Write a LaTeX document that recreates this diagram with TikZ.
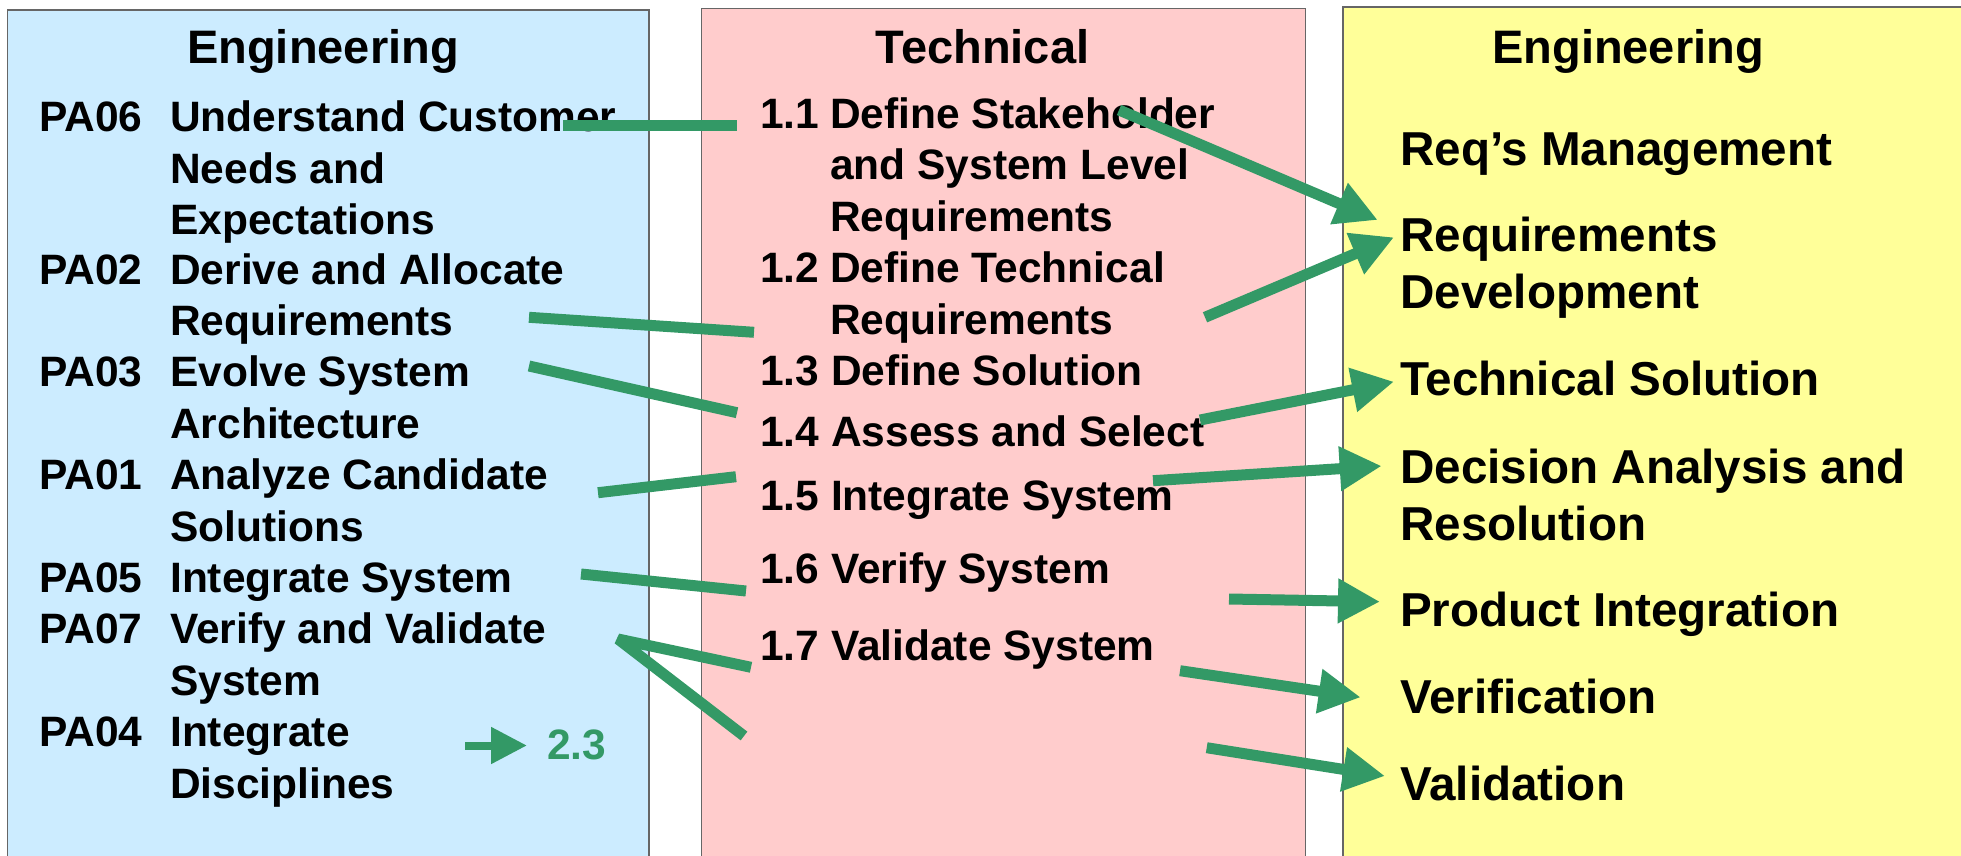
\documentclass[tikz,border=0pt]{standalone}
\usepackage{fontspec}
\setmainfont{Liberation Sans}
\usetikzlibrary{arrows.meta}
\definecolor{paleblue}{HTML}{CCECFF}
\definecolor{palepink}{HTML}{FFCCCC}
\definecolor{paleyellow}{HTML}{FFFF99}
\definecolor{linkgreen}{HTML}{339966}
\tikzset{
  panel/.style={draw=black!60, line width=1.5pt},
  txt/.style={anchor=base west, inner sep=0pt, align=left,
    font=\fontsize{42.5}{51.4}\selectfont\bfseries},
  bigtxt/.style={txt, font=\fontsize{47.6}{56.7}\selectfont\bfseries},
  heading/.style={anchor=base, inner sep=0pt,
    font=\fontsize{47}{56.7}\selectfont\bfseries},
  link/.style={draw=linkgreen, line width=11pt},
  pointer/.style={link, -{Triangle[length=42pt,width=42pt]}}
}
\begin{document}
\begin{tikzpicture}[x=1pt,y=-1pt]
\useasboundingbox (0,0) rectangle (1961,856);

% the three columns
\filldraw[panel, fill=paleblue] (7.5,10) rectangle (649,880);
\filldraw[panel, fill=palepink] (701.5,8.5) rectangle (1305.5,880);
\filldraw[panel, fill=paleyellow] (1343,7) rectangle (1990,880);

\node[heading] (engl) at (323,63.3) {Engineering};
\node[heading] (tech) at (982.6,63.3) {Technical};
\node[heading] (engr) at (1628,63.3) {Engineering};

% left column (multi-line nodes sit on their last baseline)
\node[txt] (lpa06) at (39,131.7) {PA06};
\node[txt] (pa06) at (170,234.5) {Understand Customer\\Needs and\\Expectations};
\node[txt] (lpa02) at (39,284) {PA02};
\node[txt] (pa02) at (170,335.4) {Derive and Allocate\\Requirements};
\node[txt] (lpa03) at (39,386.8) {PA03};
\node[txt] (pa03) at (170,438.2) {Evolve System\\Architecture};
\node[txt] (lpa01) at (39,489.6) {PA01};
\node[txt] (pa01) at (170,541) {Analyze Candidate\\Solutions};
\node[txt] (lpa05) at (39,592.4) {PA05};
\node[txt] (pa05) at (170,592.4) {Integrate System};
\node[txt] (lpa07) at (39,643.8) {PA07};
\node[txt] (pa07) at (170,695.2) {Verify and Validate\\System};
\node[txt] (lpa04) at (39,746.6) {PA04};
\node[txt] (pa04) at (170,798) {Integrate\\Disciplines};
\node[txt, text=linkgreen] (ref23) at (547,759) {2.3};

% middle column
\node[txt] (l11) at (760,128.3) {1.1};
\node[txt] (t11) at (830,231.1) {Define Stakeholder\\and System Level\\Requirements};
\node[txt] (l12) at (760,282.7) {1.2};
\node[txt] (t12) at (830,334.1) {Define Technical\\Requirements};
\node[txt] (t13) at (760,385.5) {1.3 Define Solution};
\node[txt] (t14) at (760,446.7) {1.4 Assess and Select};
\node[txt] (t15) at (760,510) {1.5 Integrate System};
\node[txt] (t16) at (760,583) {1.6 Verify System};
\node[txt] (t17) at (760,660) {1.7 Validate System};

% right column
\node[bigtxt] (reqm) at (1400,165) {Req’s Management};
\node[bigtxt] (reqd) at (1400,308.4) {Requirements\\Development};
\node[bigtxt] (ts) at (1400,395) {Technical Solution};
\node[bigtxt] (dar) at (1400,540) {Decision Analysis and\\Resolution};
\node[bigtxt] (pi) at (1400,626.7) {Product Integration};
\node[bigtxt] (ver) at (1400,713.3) {Verification};
\node[bigtxt] (val) at (1400,800) {Validation};

% link ends
\coordinate (pa06-o) at (563,125.7);
\coordinate (t11-i) at (737,125.7);
\coordinate (pa02-o) at (529,317.3);
\coordinate (t12-i) at (754,332.3);
\coordinate (pa03-o) at (529,366);
\coordinate (t14-i) at (737,412.7);
\coordinate (pa01-o) at (598,492.7);
\coordinate (t15-i) at (736,476.7);
\coordinate (pa05-o) at (581,574);
\coordinate (t16-i) at (746,591);
\coordinate (pa07-o) at (618,639);
\coordinate (t17-i) at (751,667.3);
\coordinate (t18-i) at (744,736);
\coordinate (pa04-o) at (465,745.5);
\coordinate (ref23-i) at (527,745.5);

\coordinate (t11-o) at (1119,110);
\coordinate (reqd-i1) at (1377.7,220);
\coordinate (t12-o) at (1205,317.3);
\coordinate (reqd-i2) at (1394,237.3);
\coordinate (t14-o) at (1200,420);
\coordinate (ts-i) at (1394,381.7);
\coordinate (t15-o) at (1153,480.7);
\coordinate (dar-i) at (1381.7,466);
\coordinate (t16-o) at (1229,599);
\coordinate (pi-i) at (1380,601.7);
\coordinate (t17-o) at (1180,670.7);
\coordinate (ver-i) at (1360.7,697.3);
\coordinate (t18-o) at (1206.7,747.7);
\coordinate (val-i) at (1385,776);

% PA to technical process
\draw[link] (pa06-o) -- (t11-i);
\draw[link] (pa02-o) -- (t12-i);
\draw[link] (pa03-o) -- (t14-i);
\draw[link] (pa01-o) -- (t15-i);
\draw[link] (pa05-o) -- (t16-i);
\draw[link, line join=bevel] (t17-i) -- (pa07-o) -- (t18-i);
\draw[link, line width=8pt, -{Triangle[length=36pt,width=35pt]}] (pa04-o) -- (ref23-i);

% technical process to engineering area
\draw[pointer] (t11-o) -- (reqd-i1);
\draw[pointer] (t12-o) -- (reqd-i2);
\draw[pointer] (t14-o) -- (ts-i);
\draw[pointer] (t15-o) -- (dar-i);
\draw[pointer] (t16-o) -- (pi-i);
\draw[pointer] (t17-o) -- (ver-i);
\draw[pointer] (t18-o) -- (val-i);
\end{tikzpicture}
\end{document}
